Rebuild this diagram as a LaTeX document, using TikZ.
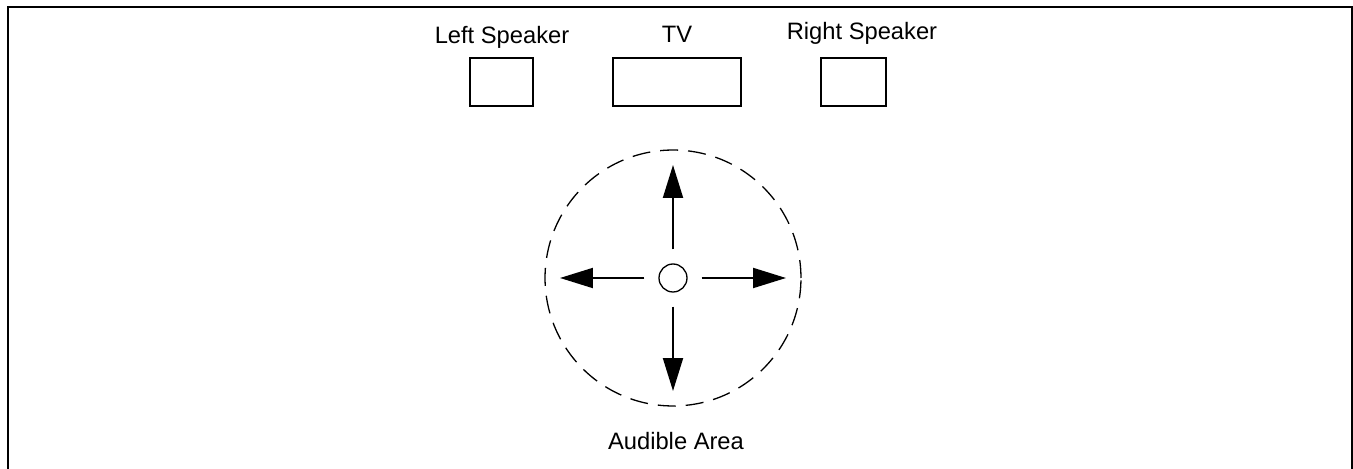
\documentclass[tikz,border=0pt]{standalone}
\usepackage{fontspec}
\setmainfont{Liberation Sans}
\usetikzlibrary{arrows.meta}

\begin{document}
\begin{tikzpicture}[x=0.02cm, y=-0.02cm, font=\fontsize{13.5}{16}\selectfont,
    kasten/.style={draw, line width=0.04cm, inner sep=0pt, minimum height=0.96cm},
    beschriftung/.style={anchor=base, inner sep=0pt},
    pfeil/.style={line width=0.04cm, -{Triangle[length=0.66cm, width=0.4cm]}, shorten <=0.28cm}]

        \useasboundingbox (0,0) rectangle (1353,469);

        % Rahmen
        \draw [line width=0.04cm] (8,480) -- (8,7) -- (1352,7) -- (1352,480);

        % Lautsprecher und TV
        \begin{scope}
            \node[kasten, minimum width=1.26cm] (links) at (501.5,82) {};
            \node[kasten, minimum width=2.56cm] (tv) at (677,82) {};
            \node[kasten, minimum width=1.30cm] (rechts) at (853.5,82) {};

            \node[beschriftung] (linkstext) at (502,44) {Left Speaker};
            \node[beschriftung] (tvtext) at (677,43) {TV};
            \node[beschriftung] (rechtstext) at (862,40) {Right Speaker};
        \end{scope}

        % Hoerbereich
        \begin{scope}
            \node[draw, circle, dash pattern=on 0.36cm off 0.2cm, line width=0.026cm, minimum size=5.12cm, inner sep=0pt] (bereich) at (673,278) {};
            \node[draw, circle, line width=0.026cm, minimum size=0.56cm, inner sep=0pt] (hoerer) at (673,278) {};

            \coordinate (oben) at (673,165);
            \coordinate (unten) at (673,391);
            \coordinate (westen) at (560,278);
            \coordinate (osten) at (786,278);

            \draw[pfeil] (hoerer) -- (oben);
            \draw[pfeil] (hoerer) -- (unten);
            \draw[pfeil] (hoerer) -- (westen);
            \draw[pfeil] (hoerer) -- (osten);

            \node[beschriftung] (bereichtext) at (676,450) {Audible Area};
        \end{scope}
    \end{tikzpicture}
\end{document}
